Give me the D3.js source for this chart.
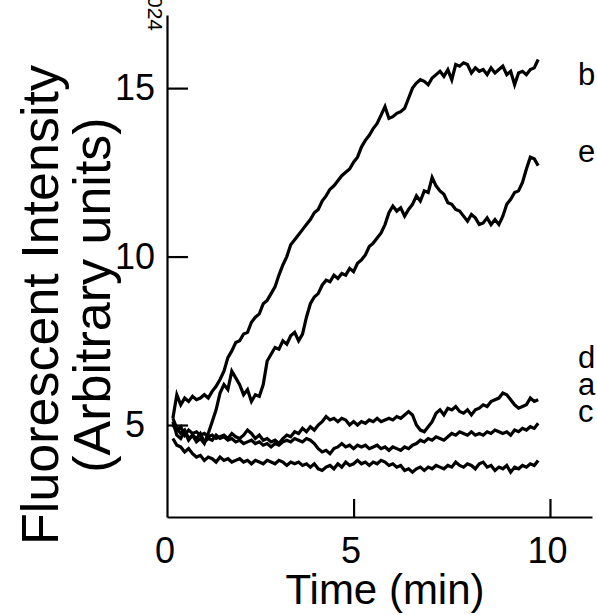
<!DOCTYPE html>
<html>
<head>
<meta charset="utf-8">
<script src="https://cdn.jsdelivr.net/npm/d3@7"></script>
<style>
  body { margin: 0; background: #fff; }
  svg { display: block; font-family: "Liberation Sans", Arial, sans-serif; }
</style>
</head>
<body>
<div id="chart"></div>
<script>
// time points (min)
const times = [
  0.4, 0.5, 0.6, 0.7, 0.8, 0.9, 1.0, 1.1, 1.2, 1.3,
  1.4, 1.5, 1.6, 1.7, 1.8, 1.9, 2.0, 2.1, 2.2, 2.3,
  2.4, 2.5, 2.6, 2.7, 2.8, 2.9, 3.0, 3.1, 3.2, 3.3,
  3.4, 3.5, 3.6, 3.7, 3.8, 3.9, 4.0, 4.1, 4.2, 4.3,
  4.4, 4.5, 4.6, 4.7, 4.8, 4.9, 5.0, 5.1, 5.2, 5.3,
  5.4, 5.5, 5.6, 5.7, 5.8, 5.9, 6.0, 6.1, 6.2, 6.3,
  6.4, 6.5, 6.6, 6.7, 6.8, 6.9, 7.0, 7.1, 7.2, 7.3,
  7.4, 7.5, 7.6, 7.7, 7.8, 7.9, 8.0, 8.1, 8.2, 8.3,
  8.4, 8.5, 8.6, 8.7, 8.8, 8.9, 9.0, 9.1, 9.2, 9.3,
  9.4, 9.5, 9.6, 9.7
];

const seriesB = [
  5.2, 5.9, 5.6, 5.8, 5.7, 5.85, 5.75, 5.8, 5.9, 5.8,
  6.0, 6.15, 6.35, 6.6, 7.0, 7.2, 7.45, 7.5, 7.7, 7.75,
  8.05, 8.2, 8.3, 8.6, 8.7, 8.9, 9.1, 9.45, 9.75, 10.0,
  10.35, 10.5, 10.65, 10.8, 10.95, 11.1, 11.3, 11.4, 11.65, 11.8,
  12.0, 12.1, 12.25, 12.4, 12.5, 12.6, 12.8, 12.95, 13.25, 13.45,
  13.6, 13.8, 13.95, 14.2, 14.45, 14.1, 14.15, 14.25, 14.3, 14.4,
  14.7, 15.0, 15.15, 15.25, 15.2, 15.1, 15.3, 15.4, 15.5, 15.35,
  15.55, 15.25, 15.7, 15.65, 15.75, 15.7, 15.45, 15.6, 15.5, 15.55,
  15.4, 15.6, 15.45, 15.55, 15.65, 15.4, 15.5, 15.1, 15.45, 15.5,
  15.4, 15.55, 15.6, 15.85
];

const seriesE = [
  5.2, 4.9, 4.75, 4.85, 4.6, 4.7, 4.5, 4.6, 4.45, 4.75,
  5.1, 5.45, 5.95, 6.2, 6.05, 6.6, 6.4, 6.2, 5.9, 6.05,
  5.7, 5.9, 5.85, 6.2, 6.9, 7.1, 7.3, 7.25, 7.5, 7.4,
  7.65, 7.75, 7.5, 7.7, 8.2, 8.6, 8.8, 8.9, 9.15, 9.3,
  9.25, 9.45, 9.35, 9.5, 9.45, 9.65, 9.55, 9.8, 9.9, 10.05,
  10.3, 10.4, 10.55, 10.7, 10.95, 11.3, 11.5, 11.35, 11.45, 11.2,
  11.4, 11.55, 11.8, 11.65, 11.95, 11.9, 12.35, 12.1, 11.95, 11.85,
  11.6, 11.55, 11.4, 11.35, 11.2, 11.05, 11.25, 11.15, 10.95, 11.0,
  11.15, 10.95, 11.1, 10.95, 11.2, 11.55, 11.7, 11.9, 11.95, 12.2,
  12.6, 12.95, 12.9, 12.7
];

const seriesD = [
  5.0, 4.85, 4.95, 4.7, 4.85, 4.75, 4.8, 4.7, 4.75, 4.65,
  4.7, 4.6, 4.65, 4.7, 4.6, 4.75, 4.65, 4.6, 4.7, 4.85,
  4.75, 4.6, 4.7, 4.55, 4.6, 4.5, 4.55, 4.45, 4.6, 4.7,
  4.65, 4.8, 4.75, 4.9, 4.8, 4.95, 4.85, 5.0, 5.1, 5.25,
  5.15, 5.2, 5.1, 5.2, 5.15, 5.0, 5.1, 5.0, 5.1, 5.05,
  5.15, 5.1, 5.2, 5.1, 5.15, 5.2, 5.15, 5.25, 5.2, 5.3,
  5.4, 5.3, 5.0, 4.85, 4.8, 4.95, 5.1, 5.35, 5.45, 5.3,
  5.5, 5.45, 5.55, 5.4, 5.35, 5.45, 5.3, 5.45, 5.5, 5.6,
  5.55, 5.7, 5.75, 5.8, 5.95, 5.9, 5.75, 5.6, 5.5, 5.55,
  5.6, 5.8, 5.7, 5.75
];

const seriesA = [
  5.1, 4.7, 4.6, 4.8, 4.55, 4.7, 4.6, 4.75, 4.5, 4.6,
  4.55, 4.7, 4.6, 4.65, 4.55, 4.6, 4.5, 4.55, 4.45, 4.5,
  4.55, 4.45, 4.5, 4.4, 4.45, 4.35, 4.45, 4.4, 4.5, 4.55,
  4.5, 4.6, 4.55, 4.5, 4.6, 4.55, 4.45, 4.3, 4.2, 4.25,
  4.15, 4.3, 4.35, 4.45, 4.35, 4.4, 4.3, 4.4, 4.35, 4.4,
  4.3, 4.35, 4.4, 4.3, 4.35, 4.25, 4.35, 4.3, 4.25, 4.35,
  4.3, 4.4, 4.45, 4.55, 4.5, 4.6, 4.55, 4.65, 4.6, 4.55,
  4.65, 4.75, 4.7, 4.8, 4.75, 4.7, 4.8, 4.7, 4.75, 4.7,
  4.8, 4.75, 4.85, 4.8, 4.75, 4.8, 4.7, 4.85, 4.8, 4.9,
  4.85, 4.95, 4.9, 5.05
];

const seriesC = [
  4.6, 4.4, 4.35, 4.2, 4.3, 4.15, 4.05, 4.1, 3.95, 4.05,
  4.0, 3.9, 4.05, 3.95, 4.0, 3.9, 3.95, 4.0, 3.9, 3.95,
  3.85, 3.95, 3.9, 3.85, 3.95, 3.9, 3.85, 3.95, 3.9, 3.8,
  3.9, 3.85, 3.9, 3.8, 3.85, 3.75, 3.85, 3.7, 3.65, 3.75,
  3.8, 3.7, 3.85, 3.75, 3.9, 3.8, 3.85, 3.95, 3.85, 3.9,
  3.8, 3.9, 3.85, 3.95, 3.9, 3.8, 3.85, 3.75, 3.8, 3.65,
  3.7, 3.6, 3.7, 3.75, 3.65, 3.75, 3.7, 3.8, 3.75, 3.7,
  3.8, 3.75, 3.9, 3.8, 3.75, 3.85, 3.8, 3.7, 3.85, 3.9,
  3.75, 3.8, 3.65, 3.75, 3.7, 3.8, 3.6, 3.75, 3.7, 3.8,
  3.75, 3.85, 3.8, 3.95
];

const seriesNames = ["b", "e", "d", "a", "c"];
const xTicks = [5, 10];
const yTicks = [5, 10, 15];

const width = 597;
const height = 615;

// axis extents in data units
const xDomain = [0.25, 11.07];
const yDomain = [2.27, 17.17];

const x = d3.scaleLinear().domain(xDomain).range([167, 592]);
const y = d3.scaleLinear().domain(yDomain).range([517, 15]);

const svg = d3.select("#chart").append("svg")
    .attr("width", width)
    .attr("height", height);

svg.append("rect").attr("width", width).attr("height", height).attr("fill", "#fff");

const series = [seriesB, seriesE, seriesD, seriesA, seriesC];

const line = d3.line()
    .x((d, i) => x(times[i]))
    .y(d => y(d));

svg.append("g")
    .selectAll("path")
    .data(series)
    .join("path")
    .attr("d", d => line(d))
    .attr("fill", "none")
    .attr("stroke", "#000")
    .attr("stroke-width", 3.2)
    .attr("stroke-linejoin", "miter");

// y axis, ticks point inward
const yAxis = svg.append("g")
    .attr("transform", `translate(${x(xDomain[0])},0)`)
    .call(d3.axisLeft(y).tickValues(yTicks).tickSize(-21).tickSizeOuter(0).tickPadding(0));
yAxis.select(".domain").attr("stroke-width", 2.2);
yAxis.selectAll(".tick line").attr("stroke-width", 2.2);
yAxis.selectAll(".tick text")
    .attr("x", -32)
    .attr("text-anchor", "middle")
    .attr("font-size", 36)
    .attr("font-family", "Liberation Sans, Arial, sans-serif")
    .attr("fill", "#000");

// x axis
const xAxis = svg.append("g")
    .attr("transform", `translate(0,${y(yDomain[0])})`)
    .call(d3.axisBottom(x).tickValues(xTicks).tickSize(-18).tickSizeOuter(0).tickPadding(20));
xAxis.select(".domain").attr("stroke-width", 2.2);
xAxis.selectAll(".tick line").attr("stroke-width", 2.2);
xAxis.selectAll(".tick text")
    .attr("dx", -3)
    .attr("font-size", 36)
    .attr("font-family", "Liberation Sans, Arial, sans-serif")
    .attr("fill", "#000");

// "0" sits at the axis origin
svg.append("text")
    .attr("x", x(xDomain[0]) - 2)
    .attr("y", y(yDomain[0]) + 20)
    .attr("dy", "0.71em")
    .attr("text-anchor", "middle")
    .attr("font-size", 36)
    .text("0");

// axis titles
svg.append("text")
    .attr("x", 385)
    .attr("y", 604)
    .attr("text-anchor", "middle")
    .attr("font-size", 42)
    .text("Time (min)");

svg.append("text")
    .attr("transform", "translate(58,305) rotate(-90)")
    .attr("text-anchor", "middle")
    .attr("font-size", 52)
    .text("Fluorescent Intensity");

svg.append("text")
    .attr("transform", "translate(110,295) rotate(-90)")
    .attr("text-anchor", "middle")
    .attr("font-size", 52)
    .text("(Arbitrary units)");

// series labels at the right
const labelY = [85, 162, 368, 395, 422];
svg.append("g")
    .selectAll("text")
    .data(seriesNames)
    .join("text")
    .attr("x", 578)
    .attr("y", (d, i) => labelY[i])
    .attr("font-size", 31)
    .text(d => d);

// clipped stamp at top-left of axis
svg.append("text")
    .attr("transform", "translate(148,-4) rotate(90)")
    .attr("font-size", 21)
    .text("024");
</script>
</body>
</html>
